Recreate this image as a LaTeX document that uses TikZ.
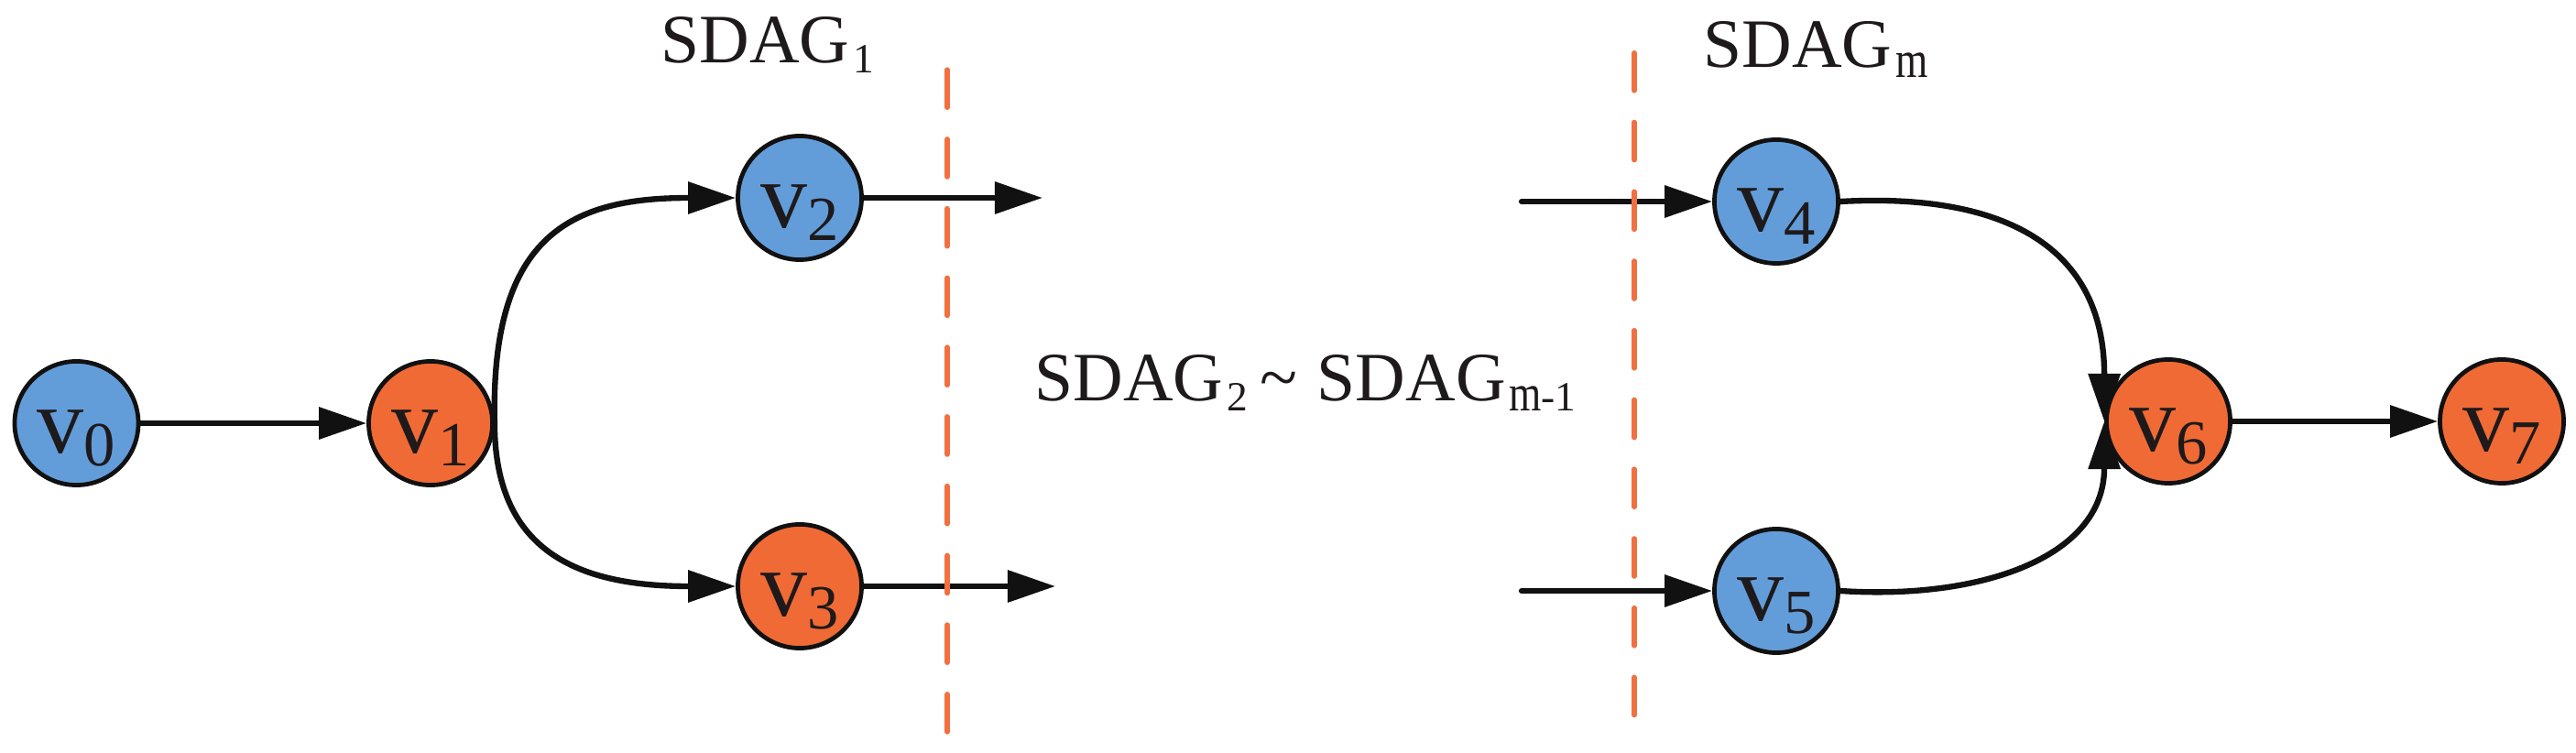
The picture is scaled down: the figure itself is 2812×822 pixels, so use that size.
\documentclass[tikz,border=0pt]{standalone}
\usepackage{fontspec}
\usepackage{graphicx}
\setmainfont{Liberation Serif}
\usetikzlibrary{arrows.meta}
\definecolor{nblue}{HTML}{629DDA}
\definecolor{norange}{HTML}{F06A35}
\definecolor{dorange}{HTML}{F07040}
\definecolor{ink}{HTML}{1E1A1B}
\definecolor{lineblack}{HTML}{111111}
\newcommand{\vlab}[1]{{\fontsize{29}{30}\selectfont v}\raisebox{-4pt}{\fontsize{19.5}{20}\selectfont #1}}
\newcommand{\subtxt}[1]{\raisebox{-3.1pt}{\fontsize{12.9}{14}\selectfont #1}}
\newcommand{\mstr}{\scalebox{1}[1.25]{m}}
\newcommand{\slab}[1]{SDAG\kern1pt\subtxt{#1}}
\begin{document}
\begin{tikzpicture}[x=0.01cm,y=0.01cm,
  vert/.style={circle, draw=lineblack, line width=1.35pt, minimum size=1.35cm, inner sep=0pt, text=ink, text height=0.84cm, text depth=0.2cm},
  bluev/.style={vert, fill=nblue},
  orangev/.style={vert, fill=norange},
  edge/.style={draw=lineblack, line width=1.8pt, -{Triangle[length=0.52cm,width=0.34cm]}},
  sep/.style={draw=dorange, line width=1.6pt, line cap=round, dash pattern=on 0.41cm off 0.347cm},
  lab/.style={text=ink, inner sep=0pt, font=\fontsize{21.5}{22}\selectfont, anchor=base west}
]
\fill[white] (0,0) rectangle (2812,-822);
\useasboundingbox (0,0) rectangle (2812,-822);

\node[bluev]   (v0) at (83.5,-462) {\vlab{0}};
\node[orangev] (v1) at (470,-462)  {\vlab{1}};
\node[bluev]   (v2) at (873,-216)  {\vlab{2}};
\node[orangev] (v3) at (873,-640)  {\vlab{3}};
\node[bluev]   (v4) at (1939,-220) {\vlab{4}};
\node[bluev]   (v5) at (1939,-645) {\vlab{5}};
\node[orangev] (v6) at (2367,-460) {\vlab{6}};
\node[orangev] (v7) at (2731,-460) {\vlab{7}};

\node[lab] (l1)   at (721,-68.3)  {\slab{1}};
\node[lab] (lm)   at (1859,-73.3) {\slab{\mstr}};
\node[lab] (lmid) at (1129,-438)  {\slab{2}\kern4pt\textasciitilde\kern6pt\slab{\mstr-1}};

\coordinate (o2) at (1138,-216);
\coordinate (o3) at (1152,-640);
\coordinate (i4) at (1661,-220);
\coordinate (i5) at (1661,-645);

\draw[edge] (v0) -- (v1);
\draw[edge] (v1.east) .. controls +(-5,210) and +(-175,0) .. (v2.west);
\draw[edge] (v1.east) .. controls +(0,-145) and +(-165,0) .. (v3.west);
\draw[edge] (v2.east) -- (o2);
\draw[edge] (v3.east) -- (o3);
\draw[edge, line cap=round] (i4) -- (v4.west);
\draw[edge, line cap=round] (i5) -- (v5.west);
\draw[edge] (v4.east) .. controls +(180,10) and +(0,190) .. (v6.west);
\draw[edge] (v5.east) .. controls +(150,-10) and +(0,-150) .. (v6.west);
\draw[edge] (v6) -- (v7);

\coordinate (d1t) at (1034,-76.2);
\coordinate (d1b) at (1034,-802);
\coordinate (d2t) at (1784,-57.8);
\coordinate (d2b) at (1784,-784);
\draw[sep] (d1t) -- (d1b);
\draw[sep] (d2t) -- (d2b);
\end{tikzpicture}
\end{document}
